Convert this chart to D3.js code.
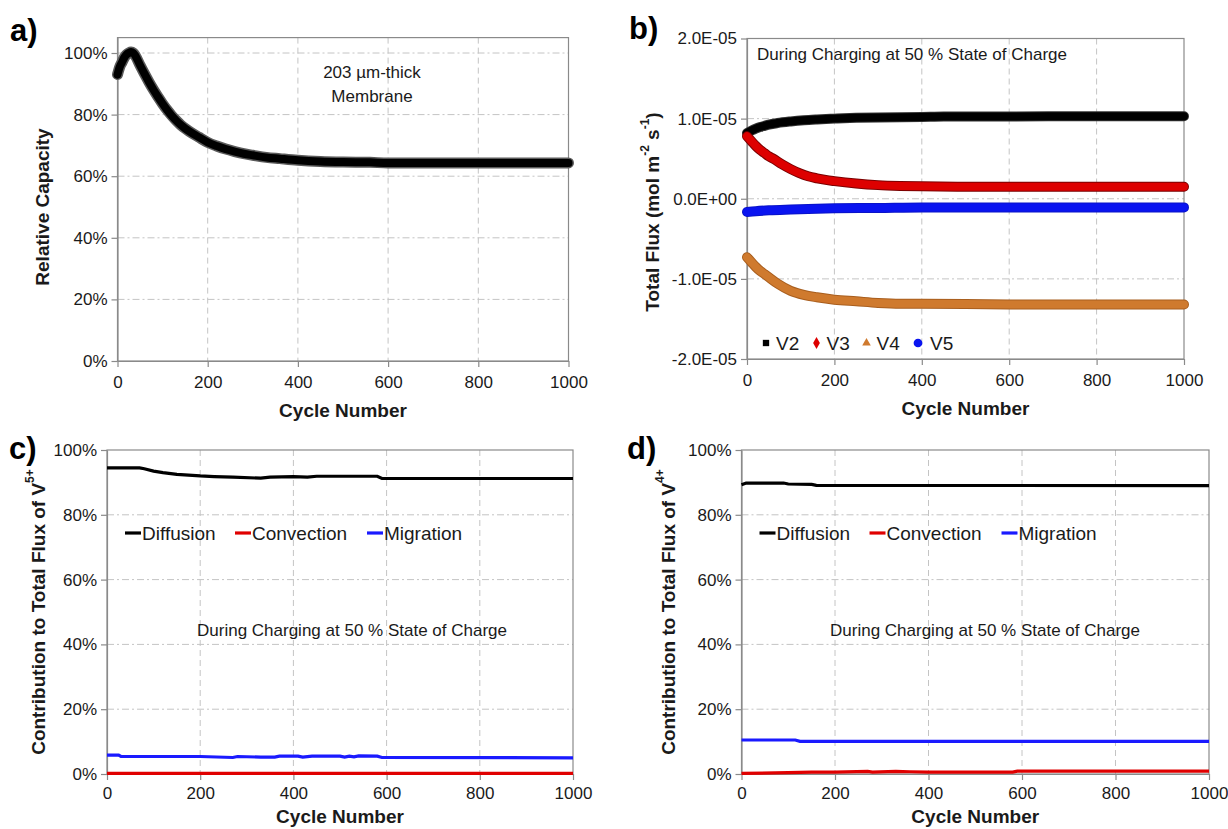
<!DOCTYPE html>
<html><head><meta charset="utf-8">
<script src="https://cdn.jsdelivr.net/npm/d3@7"></script>
<style>
body{margin:0;background:#fff}
svg{display:block}
text{font-family:"Liberation Sans",Arial,sans-serif}
</style>
</head><body>
<svg id="chart" width="1228" height="829"></svg>
<script>
// ---------------- DATA ----------------
const xTicks = [0, 200, 400, 600, 800, 1000];

// Panel a: relative capacity vs cycle number
const cyclesA   = [0,5,10,15,20,25,30,35,40,50,60,70,80,90,100,110,120,130,140,150,160,180,200,220,240,260,280,300,330,360,400,450,500,560,600,700,800,900,1000];
const capacityA = [0.93,0.955,0.97,0.985,0.995,1.0,1.003,1.0,0.99,0.96,0.932,0.905,0.88,0.857,0.835,0.815,0.797,0.781,0.767,0.755,0.745,0.727,0.71,0.698,0.688,0.68,0.673,0.668,0.661,0.657,0.652,0.648,0.646,0.645,0.643,0.643,0.643,0.643,0.643];
const yTicksA  = [0, 0.2, 0.4, 0.6, 0.8, 1.0];
const yLabelsA = ["0%", "20%", "40%", "60%", "80%", "100%"];

// Panel b: total flux (mol m-2 s-1), values x 1e-5
const cyclesV2 = [0,10,20,30,40,50,70,100,130,160,200,250,300,400,450,600,800,1000];
const fluxV2   = [0.82,0.85,0.875,0.895,0.91,0.925,0.945,0.965,0.98,0.99,1.0,1.01,1.015,1.02,1.025,1.027,1.03,1.03];
const cyclesV3 = [0,10,20,30,40,50,60,80,100,120,140,160,180,200,250,300,350,400,500,1000];
const fluxV3   = [0.78,0.72,0.66,0.61,0.57,0.53,0.5,0.43,0.37,0.32,0.28,0.255,0.235,0.22,0.19,0.17,0.16,0.155,0.15,0.15];
const cyclesV4 = [0,10,20,30,40,50,70,100,130,160,200,250,300,350,400,600,1000];
const fluxV4   = [-0.73,-0.79,-0.85,-0.9,-0.94,-0.98,-1.06,-1.15,-1.2,-1.23,-1.26,-1.28,-1.3,-1.31,-1.31,-1.32,-1.32];
const cyclesV5 = [0,20,50,100,200,300,400,600,1000];
const fluxV5   = [-0.165,-0.155,-0.145,-0.135,-0.12,-0.115,-0.108,-0.108,-0.108];
const fluxScale = 1e-5;
const yTicksB  = [-2e-5, -1e-5, 0, 1e-5, 2e-5];
const yLabelsB = ["-2.0E-05", "-1.0E-05", "0.0E+00", "1.0E-05", "2.0E-05"];
const seriesB  = ["V2", "V3", "V4", "V5"];

// Panel c: contribution to total flux of V5+ (%)
const cyclesDiffC = [0,70,80,100,120,150,200,230,270,330,350,400,430,450,580,590,1000];
const diffC       = [94.5,94.5,94.2,93.5,93.0,92.5,92.0,91.8,91.6,91.3,91.6,91.8,91.6,91.9,91.9,91.2,91.2];
const cyclesMigC  = [0,25,30,200,270,280,330,360,370,410,420,440,500,510,520,530,540,580,590,1000];
const migC        = [5.8,5.8,5.4,5.4,5.1,5.4,5.2,5.2,5.5,5.5,5.2,5.5,5.5,5.2,5.5,5.3,5.6,5.5,5.1,5.0];
const cyclesConvC = [0,1000];
const convC       = [0.2,0.2];

// Panel d: contribution to total flux of V4+ (%)
const cyclesDiffD = [0,10,90,100,150,160,1000];
const diffD       = [89.3,89.8,89.8,89.5,89.4,89.1,89.0];
const cyclesMigD  = [0,115,125,1000];
const migD        = [10.5,10.5,10.1,10.1];
const cyclesConvD = [0,100,150,200,270,280,330,360,400,580,590,1000];
const convD       = [0.2,0.4,0.6,0.6,0.8,0.6,0.8,0.7,0.6,0.6,0.9,0.9];

const yTicksCD  = [0, 20, 40, 60, 80, 100];
const yLabelsCD = ["0%", "20%", "40%", "60%", "80%", "100%"];
const legendCD  = ["Diffusion", "Convection", "Migration"];
const annotation = "During Charging at 50 % State of Charge";

// ---------------- DRAWING ----------------
const svg = d3.select("#chart");
const GRID = "#c4c4c4", FRAME = "#8a8a8a", TXT = "#1a1a1a";

function zip(xs, ys, k = 1) { return xs.map((x, i) => [x, ys[i] * k]); }

function makePanel(o) {
  const g = svg.append("g");
  const x = d3.scaleLinear().domain([0, 1000]).range([o.x0, o.x1]);
  const y = d3.scaleLinear().domain(o.yDomain).range([o.yb, o.yt]);
  g.selectAll(".vg").data(xTicks.filter(t => t > 0 && t < 1000)).join("line")
    .attr("x1", d => x(d)).attr("x2", d => x(d))
    .attr("y1", o.yt).attr("y2", o.yb)
    .attr("stroke", GRID).attr("stroke-dasharray", "6,4").attr("stroke-width", 1);
  g.selectAll(".hg").data(o.yTicks.filter(t => y(t) < o.yb - 1 && y(t) > o.yt + 1)).join("line")
    .attr("x1", o.x0).attr("x2", o.x1)
    .attr("y1", d => y(d)).attr("y2", d => y(d))
    .attr("stroke", GRID).attr("stroke-dasharray", "7,3,2,3").attr("stroke-width", 1);
  g.append("rect").attr("x", o.x0).attr("y", o.yt).attr("width", o.x1 - o.x0).attr("height", o.yb - o.yt)
    .attr("fill", "none").attr("stroke", FRAME).attr("stroke-width", 1.2);
  const ya = g.append("g").attr("transform", `translate(${o.x0},0)`)
    .call(d3.axisLeft(y).tickValues(o.yTicks).tickFormat((d, i) => o.yLabels[i]).tickSize(6).tickSizeOuter(0).tickPadding(4));
  const xa = g.append("g").attr("transform", `translate(0,${o.yb})`)
    .call(d3.axisBottom(x).tickValues(xTicks).tickFormat(d3.format("d")).tickSize(6).tickSizeOuter(0).tickPadding(o.tickPad));
  [ya, xa].forEach(a => {
    a.select(".domain").attr("stroke", FRAME).attr("stroke-width", 1.2);
    a.selectAll(".tick line").attr("stroke", FRAME).attr("stroke-width", 1.2);
    a.selectAll(".tick text").attr("fill", TXT).style("font-size", "17px")
      .style("font-family", '"Liberation Sans",Arial,sans-serif');
  });
  g.append("text").attr("x", (o.x0 + o.x1) / 2).attr("y", o.yb + o.titleDy)
    .attr("text-anchor", "middle").attr("font-weight", "bold").attr("font-size", 19).attr("fill", TXT)
    .text("Cycle Number");
  g.append("text").attr("x", o.lx).attr("y", o.ly).attr("font-weight", "bold")
    .attr("font-size", 31).attr("fill", "#000").text(o.label);
  return { g, x, y };
}

// ---- Panel a ----
{
  const { g, x, y } = makePanel({ x0: 117.5, x1: 568.5, yb: 361, yt: 361 - 308 * 1.05, yDomain: [0, 1.05],
    yTicks: yTicksA, yLabels: yLabelsA, label: "a)", lx: 10, ly: 41, tickPad: 9, titleDy: 56 });
  const line = d3.line().x(d => x(d[0])).y(d => y(d[1])).curve(d3.curveMonotoneX);
  const pts = zip(cyclesA, capacityA);
  g.append("path").attr("d", line(pts)).attr("fill", "none").attr("stroke", "#5a5a5a")
    .attr("stroke-width", 11).attr("stroke-linecap", "round");
  g.append("path").attr("d", line(pts)).attr("fill", "none").attr("stroke", "#000")
    .attr("stroke-width", 8).attr("stroke-linecap", "round");
  g.append("text").attr("x", 372).attr("y", 78).attr("text-anchor", "middle").attr("font-size", 17).attr("fill", TXT).text("203 µm-thick");
  g.append("text").attr("x", 372).attr("y", 102).attr("text-anchor", "middle").attr("font-size", 17).attr("fill", TXT).text("Membrane");
  g.append("text").attr("transform", "translate(42,207) rotate(-90)").attr("text-anchor", "middle")
    .attr("dominant-baseline", "central").attr("font-weight", "bold").attr("font-size", 19).attr("fill", TXT)
    .text("Relative Capacity");
}

// ---- Panel b ----
{
  const { g, x, y } = makePanel({ x0: 747, x1: 1184, yb: 359, yt: 38.5, yDomain: [-2e-5, 2e-5],
    yTicks: yTicksB, yLabels: yLabelsB, label: "b)", lx: 629, ly: 39, tickPad: 9, titleDy: 56 });
  const line = d3.line().x(d => x(d[0])).y(d => y(d[1])).curve(d3.curveMonotoneX);
  const data = [
    { name: "V2", pts: zip(cyclesV2, fluxV2, fluxScale), color: "#000000", edge: "#333" },
    { name: "V3", pts: zip(cyclesV3, fluxV3, fluxScale), color: "#dd0000", edge: "#7a0000" },
    { name: "V4", pts: zip(cyclesV4, fluxV4, fluxScale), color: "#cf7a2e", edge: "#a85e1e" },
    { name: "V5", pts: zip(cyclesV5, fluxV5, fluxScale), color: "#0a14f0", edge: "#0a14c8" }
  ];
  data.forEach(s => {
    g.append("path").attr("d", line(s.pts)).attr("fill", "none").attr("stroke", s.edge)
      .attr("stroke-width", 10).attr("stroke-linecap", "round");
    g.append("path").attr("d", line(s.pts)).attr("fill", "none").attr("stroke", s.color)
      .attr("stroke-width", 8).attr("stroke-linecap", "round");
  });
  g.append("text").attr("x", 757).attr("y", 60).attr("font-size", 17).attr("fill", TXT).text(annotation);
  const sym = [d3.symbolSquare, d3.symbolDiamond, d3.symbolTriangle, d3.symbolCircle];
  const symSize = [40, 40, 32, 60];
  const lxs = [766, 816.5, 866.5, 918];
  seriesB.forEach((n, i) => {
    g.append("path").attr("d", d3.symbol(sym[i], symSize[i])())
      .attr("transform", `translate(${lxs[i]},343)`).attr("fill", data[i].color);
    g.append("text").attr("x", lxs[i] + 10 + (i === 3 ? 2 : 0)).attr("y", 349.5)
      .attr("font-size", 19).attr("fill", TXT).text(n);
  });
  const t = g.append("text").attr("transform", "translate(652,212) rotate(-90)").attr("text-anchor", "middle")
    .attr("dominant-baseline", "central").attr("font-weight", "bold").attr("font-size", 19).attr("fill", TXT);
  t.append("tspan").text("Total Flux (mol m");
  t.append("tspan").attr("font-size", 12).attr("dy", -7).text("-2");
  t.append("tspan").attr("dy", 7).text(" s");
  t.append("tspan").attr("font-size", 12).attr("dy", -7).text("-1");
  t.append("tspan").attr("dy", 7).text(")");
}

// ---- Panels c and d ----
function fluxPanel(o, diff, mig, conv, ion, ylx) {
  const { g, x, y } = makePanel(o);
  const line = d3.line().x(d => x(d[0])).y(d => y(d[1]));
  const series = [
    { pts: conv, color: "#e00000" },
    { pts: mig, color: "#1a1aff" },
    { pts: diff, color: "#000000" }
  ];
  series.forEach(s => g.append("path").attr("d", line(s.pts)).attr("fill", "none")
    .attr("stroke", s.color).attr("stroke-width", 3.2));
  const cols = ["#000000", "#e00000", "#1a1aff"];
  const offs = [18, 128, 260];
  legendCD.forEach((n, i) => {
    const lx = o.x0 + offs[i];
    g.append("line").attr("x1", lx).attr("x2", lx + 16).attr("y1", 533).attr("y2", 533)
      .attr("stroke", cols[i]).attr("stroke-width", 3.2);
    g.append("text").attr("x", lx + 17).attr("y", 540).attr("font-size", 19).attr("fill", TXT).text(n);
  });
  g.append("text").attr("x", o.annX).attr("y", 636).attr("text-anchor", "middle")
    .attr("font-size", 17).attr("fill", TXT).text(annotation);
  const t = g.append("text").attr("transform", `translate(${ylx},612) rotate(-90)`).attr("text-anchor", "middle")
    .attr("dominant-baseline", "central").attr("font-weight", "bold").attr("font-size", 19).attr("fill", TXT);
  t.append("tspan").text("Contribution to Total Flux of V");
  t.append("tspan").attr("font-size", 12).attr("dy", -8).text(ion);
}
fluxPanel({ x0: 107, x1: 573, yb: 774, yt: 450, yDomain: [0, 100], yTicks: yTicksCD, yLabels: yLabelsCD,
  label: "c)", lx: 9, ly: 459, annX: 352, tickPad: 7, titleDy: 49 },
  zip(cyclesDiffC, diffC), zip(cyclesMigC, migC), zip(cyclesConvC, convC), "5+", 38);
fluxPanel({ x0: 741.5, x1: 1209, yb: 774, yt: 450, yDomain: [0, 100], yTicks: yTicksCD, yLabels: yLabelsCD,
  label: "d)", lx: 627, ly: 459, annX: 985, tickPad: 7, titleDy: 49 },
  zip(cyclesDiffD, diffD), zip(cyclesMigD, migD), zip(cyclesConvD, convD), "4+", 668);
</script>
</body></html>
